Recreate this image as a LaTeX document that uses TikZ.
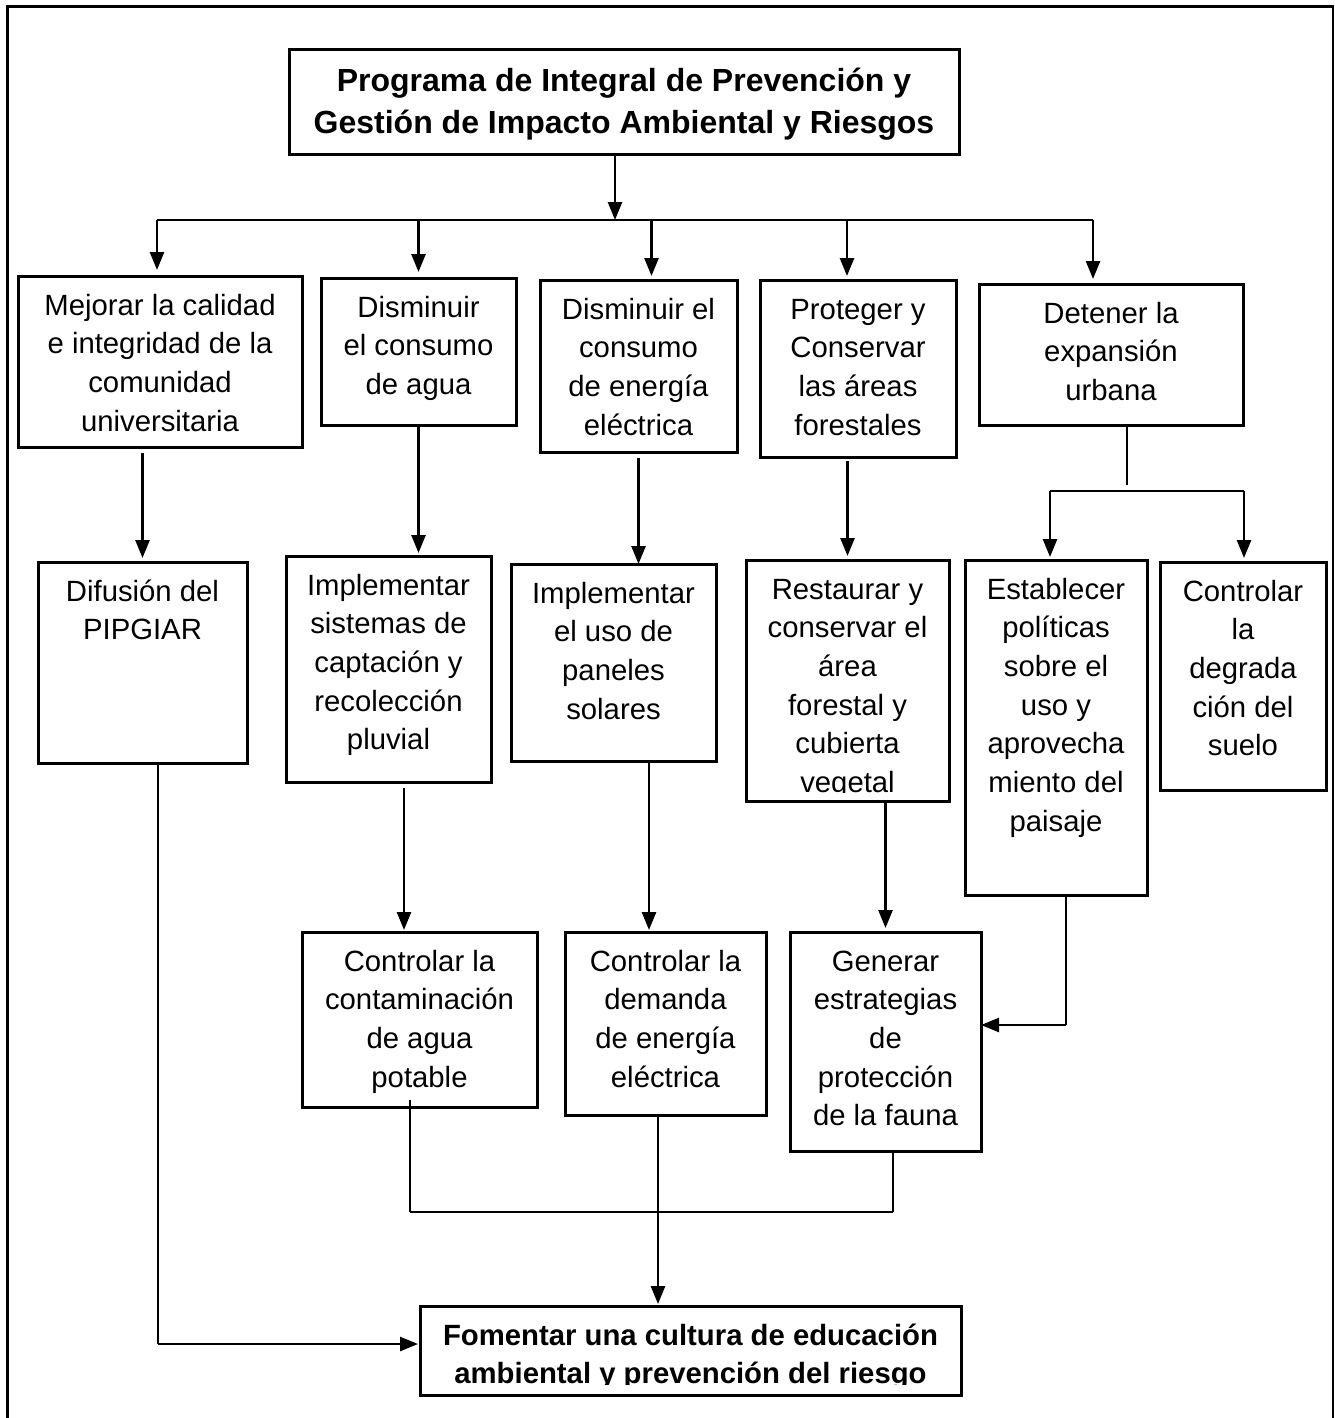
\documentclass[tikz,border=0pt]{standalone}
\usepackage{fontspec}
\setmainfont{Liberation Sans}
\usetikzlibrary{arrows.meta}

% text inside a box, placed from the top
\newcommand{\btext}[3]{\parbox[t][#2][t]{#1}{\centering\rule{0pt}{39pt}#3}}

\begin{document}
\begin{tikzpicture}[
  x=1pt, y=-1pt,
  box/.style={draw, line width=3pt, inner sep=0pt, outer sep=0pt, anchor=north west,
    font=\fontsize{29.3}{38.7}\selectfont},
  arr/.style={-{Triangle[length=18pt,width=14pt]}, line width=2.6pt},
  conn/.style={line width=2.2pt},
  thinline/.style={line width=1.2pt},
  pageframe/.style={line width=2.5pt}
  ]
  \useasboundingbox (0,0) rectangle (1335,1418);
  \draw[pageframe] (7.5,1418) |- (1333,6.5) -- (1333,1418);

  % Define nodes
  \node[box, font=\fontsize{32}{42}\selectfont\bfseries] (title) at (289,50)
    {\parbox[t][104pt][t]{670pt}{\centering\rule{0pt}{42pt}Programa de Integral de Prevención y\\ Gestión de Impacto Ambiental y Riesgos}};

  \node[box] (b1) at (18,276) {\btext{284pt}{171pt}{Mejorar la calidad\\ e integridad de la\\ comunidad\\ universitaria}};
  \node[box] (b2) at (321,278) {\btext{195pt}{147pt}{Disminuir\\ el consumo\\ de agua}};
  \node[box] (b3) at (540,280) {\btext{197pt}{172pt}{Disminuir el\\ consumo\\ de energía\\ eléctrica}};
  \node[box] (b4) at (760,280) {\btext{196pt}{177pt}{Proteger y\\ Conservar\\ las áreas\\ forestales}};
  \node[box] (b5) at (979,284) {\btext{264pt}{141pt}{Detener la\\ expansión\\ urbana}};

  \node[box] (b6) at (38,562) {\btext{209pt}{201pt}{Difusión del\\ PIPGIAR}};
  \node[box] (b7) at (286,556) {\btext{205pt}{226pt}{Implementar\\ sistemas de\\ captación y\\ recolección\\ pluvial}};
  \node[box] (b8) at (511,564) {\btext{205pt}{197pt}{Implementar\\ el uso de\\ paneles\\ solares}};
  \node[box] (b9) at (746,560) {\btext{203pt}{241pt}{Restaurar y\\ conservar el\\ área\\ forestal y\\ cubierta\\ vegetal}};
  \node[box] (b10) at (965,560) {\btext{182pt}{335pt}{Establecer\\ políticas\\ sobre el\\ uso y\\ aprovecha\\ miento del\\ paisaje}};
  \node[box] (b11) at (1160,562) {\btext{166pt}{228pt}{Controlar\\ la\\ degrada\\ ción del\\ suelo}};

  \node[box] (b12) at (302,932) {\btext{235pt}{175pt}{Controlar la\\ contaminación\\ de agua\\ potable}};
  \node[box] (b13) at (565,932) {\btext{201pt}{183pt}{Controlar la\\ demanda\\ de energía\\ eléctrica}};
  \node[box] (b14) at (790,932) {\btext{191pt}{219pt}{Generar\\ estrategias\\ de\\ protección\\ de la fauna}};

  \node[box, font=\fontsize{29.3}{38}\selectfont\bfseries] (b15) at (420,1306)
    {\btext{541pt}{89pt}{Fomentar una cultura de educación\\ ambiental y prevención del riesgo}};

  % cut-off last lines
  \fill[white] (749,793) rectangle (946,799.5);
  \fill[white] (423,1385) rectangle (958,1393.5);

  % junction points
  \coordinate (barL) at (157,220);
  \coordinate (barR) at (1093,220);
  \coordinate (s5) at (1127,488);
  \coordinate (splitL) at (1050,491);
  \coordinate (splitR) at (1244,491);
  \coordinate (c10) at (1066,1025);
  \coordinate (mL) at (410,1212);
  \coordinate (mR) at (893,1212);
  \coordinate (c6) at (158,1344);

  % Draw arrows
  \draw[arr] ([xshift=-9pt]title.south) -- ([xshift=-9pt]title.south |- barL);
  \draw[conn] (barL) -- (barR);
  \draw[arr] (barL) -- ([yshift=6pt]barL |- b1.north);
  \draw[arr] (b2.north |- barL) -- ([yshift=6pt]b2.north);
  \draw[arr] ([xshift=13pt]b3.north |- barL) -- ([xshift=13pt,yshift=4pt]b3.north);
  \draw[arr] ([xshift=-11pt]b4.north |- barL) -- ([xshift=-11pt,yshift=4pt]b4.north);
  \draw[arr] (barR) -- ([yshift=5pt]barR |- b5.north);

  \draw[arr] ([yshift=-6pt]b6.north |- b1.south) -- ([yshift=4pt]b6.north);
  \draw[arr] (b2.south) -- ([yshift=3pt]b2.south |- b7.north);
  \draw[arr] ([yshift=-6pt]b3.south) -- (b3.south |- b8.north);
  \draw[arr] ([yshift=-4pt]b9.north |- b4.south) -- ([yshift=4pt]b9.north);
  \draw[thinline] (s5 |- b5.south) -- ([yshift=3pt]s5);
  \draw[conn] (splitL) -- (splitR);
  \draw[arr] (splitL) -- ([yshift=3pt]splitL |- b10.north);
  \draw[arr] (splitR) -- ([yshift=4pt]splitR |- b11.north);

  \draw[arr] ([xshift=15.5pt,yshift=-6pt]b7.south) -- ([xshift=15.5pt,yshift=2pt]b7.south |- b12.north);
  \draw[arr] ([xshift=35.5pt]b8.south) -- ([xshift=35.5pt,yshift=2pt]b8.south |- b13.north);
  \draw[arr] (b14.north |- b9.south) -- ([yshift=4pt]b14.north);
  \draw[thinline] (c10 |- b10.south) -- (c10);
  \draw[arr] (c10) -- (c10 -| b14.east);

  \draw[thinline] ([yshift=7pt]mL |- b12.south) -- (mL);
  \draw[thinline] (mR |- b14.south) -- (mR);
  \draw[conn] (mL) -- (mR);
  \draw[arr] ([xshift=-7.5pt]b13.south) -- ([xshift=-7.5pt,yshift=2pt]b13.south |- b15.north);
  \draw[thinline] (c6 |- b6.south) -- (c6);
  \draw[arr] (c6) -- ([xshift=-2pt]c6 -| b15.west);
\end{tikzpicture}
\end{document}
